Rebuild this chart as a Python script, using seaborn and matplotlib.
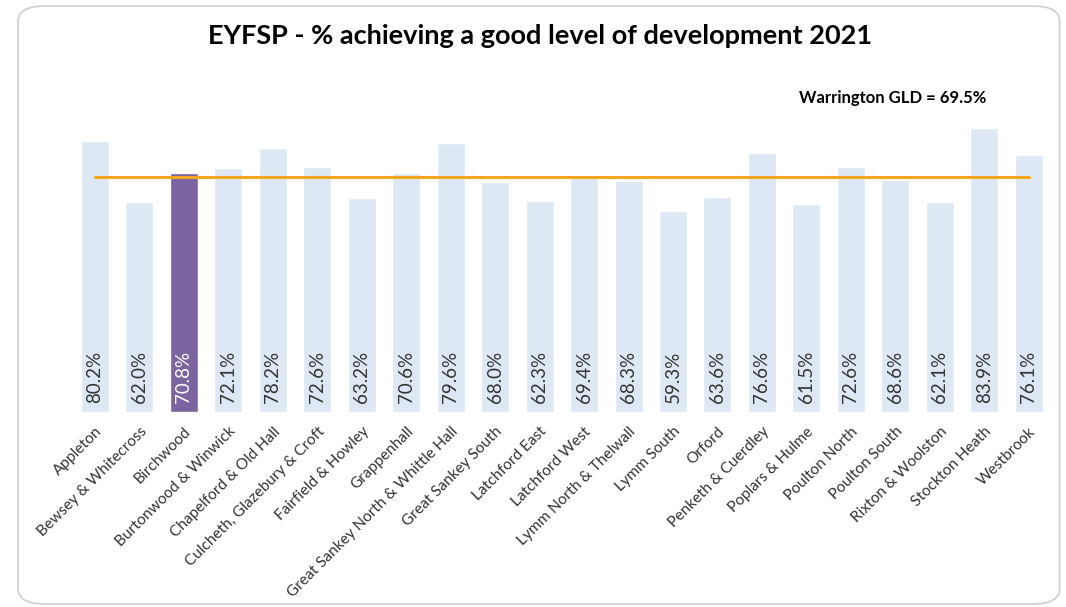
import matplotlib
matplotlib.use("Agg")
import matplotlib.pyplot as plt
from matplotlib.patches import FancyBboxPatch
import seaborn as sns
import pandas as pd

# ward data
wards = ["Appleton", "Bewsey & Whitecross", "Birchwood", "Burtonwood & Winwick",
         "Chapelford & Old Hall", "Culcheth, Glazebury & Croft", "Fairfield & Howley",
         "Grappenhall", "Great Sankey North & Whittle Hall", "Great Sankey South",
         "Latchford East", "Latchford West", "Lymm North & Thelwall", "Lymm South",
         "Orford", "Penketh & Cuerdley", "Poplars & Hulme", "Poulton North",
         "Poulton South", "Rixton & Woolston", "Stockton Heath", "Westbrook"]
gld = [80.2, 62.0, 70.8, 72.1, 78.2, 72.6, 63.2, 70.6, 79.6, 68.0, 62.3,
       69.4, 68.3, 59.3, 63.6, 76.6, 61.5, 72.6, 68.6, 62.1, 83.9, 76.1]
warrington = 69.5
highlight = "Birchwood"

df = pd.DataFrame({"ward": wards, "gld": gld})
df["avg"] = warrington

sns.set_style("white")
plt.rcParams["font.family"] = ["Lato", "DejaVu Sans"]

fig = plt.figure(figsize=(10.66, 6.07), dpi=100)

# card border
card = FancyBboxPatch((0.017, 0.005), 0.977, 0.985,
                      boxstyle="round,pad=0,rounding_size=0.025",
                      transform=fig.transFigure, facecolor="none",
                      edgecolor="#cfcfcf", linewidth=1.2, zorder=-1)
fig.patches.append(card)

ax = fig.add_axes([0.0682, 0.3213, 0.9177, 0.5124])
ax.set_facecolor("none")

cols = ["#7b65a0" if w == highlight else "#dee8f4" for w in wards]
sns.barplot(data=df, x="ward", y="gld", hue="ward", palette=cols,
            legend=False, width=0.63, saturation=1, ax=ax)
sns.lineplot(data=df, x="ward", y="avg", color="#f5a623", linewidth=2.2,
             ax=ax, zorder=3)

for i, (w, v) in enumerate(zip(wards, gld)):
    ax.text(i, 2.6, f"{v:.1f}%", rotation=90, ha="center", va="bottom",
            fontsize=13.5, color="white" if w == highlight else "#333333")

ax.set_ylim(0, 92)
ax.set_xlim(-0.5, len(wards) - 0.5)
ax.set_xlabel("")
ax.set_ylabel("")
ax.set_yticks([])
ax.tick_params(axis="x", length=0, pad=9)
plt.setp(ax.get_xticklabels(), rotation=45, ha="right", rotation_mode="anchor",
         fontsize=11.1, color="#333333")
sns.despine(ax=ax, left=True, bottom=True)

fig.text(0.507, 0.94, "EYFSP - % achieving a good level of development 2021",
         ha="center", va="center", fontsize=19.5, fontweight="bold", color="black")
fig.text(0.837, 0.839, f"Warrington GLD = {warrington}%", ha="center",
         va="center", fontsize=12, fontweight="bold", color="black")

fig.savefig("out.png", dpi=100)
